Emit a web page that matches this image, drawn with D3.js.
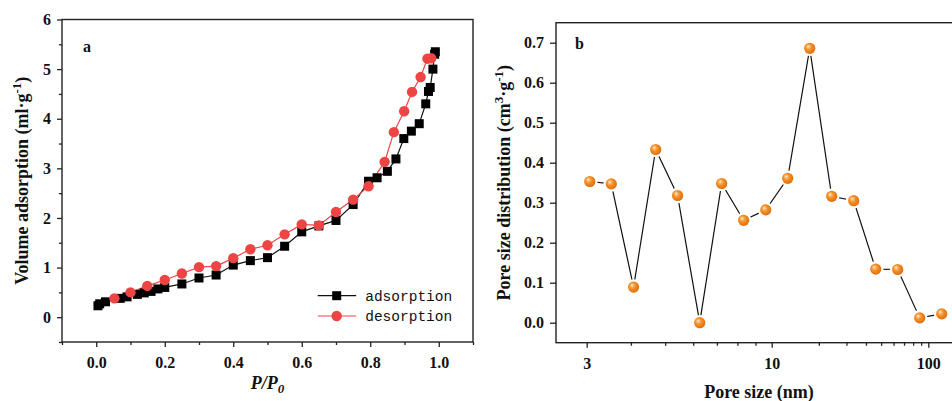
<!DOCTYPE html>
<html>
<head>
<meta charset="utf-8">
<script src="https://cdn.jsdelivr.net/npm/d3@7"></script>
<style>
  html, body { margin: 0; padding: 0; background: #fff; }
  svg { display: block; }
  .tick-label { font-family: "Liberation Serif", "Times New Roman", serif; font-weight: bold; font-size: 16px; fill: #111; }
  .axis-title { font-family: "Liberation Serif", "Times New Roman", serif; font-weight: bold; font-size: 18px; fill: #111; }
  .panel-tag { font-family: "Liberation Serif", "Times New Roman", serif; font-weight: bold; font-size: 16px; fill: #111; }
  .legend-text { font-family: "Liberation Mono", "DejaVu Sans Mono", monospace; font-size: 14.5px; fill: #111; }
</style>
</head>
<body>
<svg id="chart" width="952" height="401"></svg>
<script>
// ---- Panel a: N2 adsorption / desorption isotherm ----
const adsP = [0.005, 0.01, 0.027, 0.07, 0.09, 0.12, 0.14, 0.16, 0.18, 0.2, 0.25, 0.3, 0.35, 0.4, 0.45, 0.5, 0.55, 0.6, 0.65, 0.7, 0.75, 0.795, 0.82, 0.85, 0.875, 0.898, 0.92, 0.943, 0.962, 0.97, 0.975, 0.983, 0.988, 0.99];
const adsV = [0.23, 0.27, 0.31, 0.38, 0.41, 0.46, 0.49, 0.52, 0.57, 0.6, 0.67, 0.79, 0.85, 1.05, 1.14, 1.2, 1.43, 1.72, 1.84, 1.95, 2.27, 2.74, 2.81, 2.94, 3.19, 3.6, 3.75, 3.9, 4.3, 4.55, 4.63, 5.0, 5.3, 5.35];
const desP = [0.053, 0.1, 0.149, 0.2, 0.25, 0.3, 0.35, 0.4, 0.45, 0.5, 0.55, 0.6, 0.65, 0.7, 0.75, 0.795, 0.842, 0.869, 0.899, 0.922, 0.947, 0.967, 0.978];
const desV = [0.38, 0.5, 0.63, 0.75, 0.88, 1.01, 1.03, 1.19, 1.37, 1.45, 1.67, 1.87, 1.85, 2.12, 2.37, 2.64, 3.13, 3.73, 4.15, 4.54, 4.84, 5.21, 5.22];
const aXTicks = [0.0, 0.2, 0.4, 0.6, 0.8, 1.0];
const aXMinor = [-0.1, 0.1, 0.3, 0.5, 0.7, 0.9, 1.1];
const aYTicks = [0, 1, 2, 3, 4, 5, 6];
const aYMinor = [-0.5, 0.5, 1.5, 2.5, 3.5, 4.5, 5.5];
const seriesNames = ["adsorption", "desorption"];

// ---- Panel b: pore size distribution ----
const poreSize = [3.06, 3.52, 4.07, 4.70, 5.42, 6.26, 7.22, 8.33, 9.62, 12.65, 17.49, 24.16, 33.40, 46.15, 63.77, 88.12, 121.8];
const poreDist = [0.353, 0.347, 0.089, 0.433, 0.318, 0.0, 0.348, 0.256, 0.282, 0.361, 0.686, 0.316, 0.305, 0.134, 0.133, 0.012, 0.022];
const bXTicks = [3, 10, 100];
const bXMinor = [4, 5, 6, 7, 8, 9, 20, 30, 40, 50, 60, 70, 80, 90];
const bYTicks = [0.0, 0.1, 0.2, 0.3, 0.4, 0.5, 0.6, 0.7];

const svg = d3.select("#chart");
const RED = "#ef4444";

// gradient for the shaded sphere markers
const defs = svg.append("defs");
const grad = defs.append("radialGradient")
  .attr("id", "sphere").attr("cx", "45%").attr("cy", "45%").attr("r", "60%")
  .attr("fx", "35%").attr("fy", "32%");
[["0%", "#fff6ea"], ["18%", "#fbc27e"], ["45%", "#f5902a"], ["85%", "#e5740e"], ["100%", "#c85f05"]]
  .forEach(([o, c]) => grad.append("stop").attr("offset", o).attr("stop-color", c));

// ================= Panel a =================
const A = { left: 62, right: 473, top: 19.5, bottom: 342 };
const xa = d3.scaleLinear().domain([-0.1, 1.1]).range([A.left, A.right]);
const ya = d3.scaleLinear().domain([-0.5, 6]).range([A.bottom, A.top]);
const ga = svg.append("g");

ga.append("rect").attr("x", A.left).attr("y", A.top)
  .attr("width", A.right - A.left).attr("height", A.bottom - A.top)
  .attr("fill", "none").attr("stroke", "#222").attr("stroke-width", 1.4);

// bottom axis
const axA = ga.append("g").attr("transform", `translate(0,${A.bottom})`)
  .call(d3.axisBottom(xa).tickValues(aXTicks).tickSize(5).tickPadding(10).tickFormat(d3.format(".1f")));
ga.append("g").attr("transform", `translate(0,${A.bottom})`)
  .call(d3.axisBottom(xa).tickValues(aXMinor).tickSize(3).tickFormat(""));
// left axis
const ayA = ga.append("g").attr("transform", `translate(${A.left},0)`)
  .call(d3.axisLeft(ya).tickValues(aYTicks).tickSize(5).tickPadding(6).tickFormat(d3.format("d")));
ga.append("g").attr("transform", `translate(${A.left},0)`)
  .call(d3.axisLeft(ya).tickValues(aYMinor).tickSize(3).tickFormat(""));

ga.selectAll(".domain").remove();
ga.selectAll(".tick line").attr("stroke", "#222").attr("stroke-width", 1.3);
ga.selectAll(".tick text").attr("class", "tick-label").attr("font-size", null).attr("font-family", null);

// lines
const lineA = d3.line().x(d => xa(d[0])).y(d => ya(d[1]));
const adsData = adsP.map((p, i) => [p, adsV[i]]);
const desData = desP.map((p, i) => [p, desV[i]]);
ga.append("path").datum(adsData).attr("d", lineA)
  .attr("fill", "none").attr("stroke", "#111").attr("stroke-width", 1.2);
ga.append("path").datum(desData).attr("d", lineA)
  .attr("fill", "none").attr("stroke", RED).attr("stroke-width", 1.2);

const SQ = 9;
ga.append("g").selectAll("rect").data(adsData).join("rect")
  .attr("x", d => xa(d[0]) - SQ / 2).attr("y", d => ya(d[1]) - SQ / 2)
  .attr("width", SQ).attr("height", SQ).attr("fill", "#000");
ga.append("g").selectAll("circle").data(desData).join("circle")
  .attr("cx", d => xa(d[0])).attr("cy", d => ya(d[1])).attr("r", 5.2).attr("fill", RED);

// legend
const leg = ga.append("g").attr("transform", "translate(317.7,295.7)");
seriesNames.forEach((name, i) => {
  const row = leg.append("g").attr("transform", `translate(0,${i * 20.3})`);
  row.append("line").attr("x1", 0).attr("x2", 38.5).attr("y1", 0).attr("y2", 0)
    .attr("stroke", i === 0 ? "#111" : RED).attr("stroke-width", 1.2);
  if (i === 0) {
    row.append("rect").attr("x", 19 - SQ / 2).attr("y", -SQ / 2).attr("width", SQ).attr("height", SQ).attr("fill", "#000");
  } else {
    row.append("circle").attr("cx", 19).attr("cy", 0).attr("r", 5.2).attr("fill", RED);
  }
  row.append("text").attr("class", "legend-text").attr("x", 47.5).attr("y", 5).text(name);
});

// titles
ga.append("text").attr("class", "panel-tag").attr("x", 83).attr("y", 52).text("a");
const xt = ga.append("text").attr("class", "axis-title").attr("x", (xa(0) + xa(1)) / 2).attr("y", 389)
  .attr("text-anchor", "middle").attr("font-style", "italic");
xt.append("tspan").text("P/P");
xt.append("tspan").attr("dy", 4).attr("font-size", 13).text("0");

const yt = ga.append("text").attr("class", "axis-title")
  .attr("transform", `translate(28,${(A.top + A.bottom) / 2}) rotate(-90)`).attr("text-anchor", "middle");
yt.append("tspan").text("Volume adsorption (ml·g");
yt.append("tspan").attr("dy", -7).attr("font-size", 13).text("-1");
yt.append("tspan").attr("dy", 7).text(")");

// ================= Panel b =================
const B = { left: 556, right: 956, top: 22.7, bottom: 342.7 };
// log axis split at 10 into two segments
const xb = d3.scaleLog().domain([3, 10, 100]).range([586.7, 771.7, 928.3]);
const yb = d3.scaleLinear().domain([-0.05, 0.75]).range([B.bottom, B.top]);
const gb = svg.append("g");

gb.append("rect").attr("x", B.left).attr("y", B.top)
  .attr("width", B.right - B.left).attr("height", B.bottom - B.top)
  .attr("fill", "none").attr("stroke", "#222").attr("stroke-width", 1.4);

gb.append("g").attr("transform", `translate(0,${B.bottom})`)
  .call(d3.axisBottom(xb).tickValues(bXTicks).tickSize(5).tickPadding(10).tickFormat(d3.format("d")));
gb.append("g").attr("transform", `translate(0,${B.bottom})`)
  .call(d3.axisBottom(xb).tickValues(bXMinor).tickSize(3).tickFormat(""));
gb.append("g").attr("transform", `translate(${B.left},0)`)
  .call(d3.axisLeft(yb).tickValues(bYTicks).tickSize(6).tickPadding(6).tickFormat(d3.format(".1f")));

gb.selectAll(".domain").remove();
gb.selectAll(".tick line").attr("stroke", "#222").attr("stroke-width", 1.3);
gb.selectAll(".tick text").attr("class", "tick-label").attr("font-size", null).attr("font-family", null);

const psdData = poreSize.map((s, i) => [s, poreDist[i]]);
gb.append("path").datum(psdData)
  .attr("d", d3.line().x(d => xb(d[0])).y(d => yb(d[1])))
  .attr("fill", "none").attr("stroke", "#111").attr("stroke-width", 1.2);
// white halo leaves a small gap between line and each marker
gb.append("g").selectAll("circle").data(psdData).join("circle")
  .attr("cx", d => xb(d[0])).attr("cy", d => yb(d[1])).attr("r", 7.8).attr("fill", "#fff");
gb.append("g").selectAll("circle").data(psdData).join("circle")
  .attr("cx", d => xb(d[0])).attr("cy", d => yb(d[1])).attr("r", 5.6).attr("fill", "url(#sphere)");

gb.append("text").attr("class", "panel-tag").attr("x", 575).attr("y", 49).text("b");
gb.append("text").attr("class", "axis-title").attr("x", 759).attr("y", 398)
  .attr("text-anchor", "middle").text("Pore size (nm)");

const ytb = gb.append("text").attr("class", "axis-title")
  .attr("transform", `translate(510,${(B.top + B.bottom) / 2}) rotate(-90)`).attr("text-anchor", "middle");
ytb.append("tspan").text("Pore size distribution (cm");
ytb.append("tspan").attr("dy", -7).attr("font-size", 13).text("3");
ytb.append("tspan").attr("dy", 7).text("·g");
ytb.append("tspan").attr("dy", -7).attr("font-size", 13).text("-1");
ytb.append("tspan").attr("dy", 7).text(")");
</script>
</body>
</html>
